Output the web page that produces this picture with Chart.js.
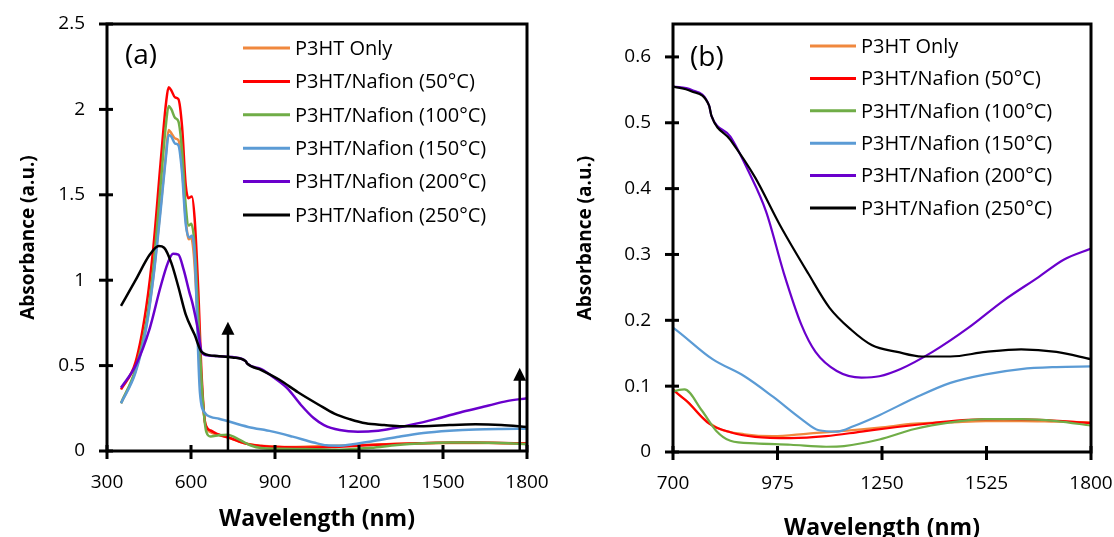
<!DOCTYPE html>
<html>
<head>
<meta charset="utf-8">
<script src="https://cdn.jsdelivr.net/npm/chart.js@4.4.0/dist/chart.umd.min.js"></script>
<style>
  html, body { margin: 0; padding: 0; background: #fff; }
  #wrap { position: relative; width: 1114px; height: 537px; }
  canvas { position: absolute; top: 0; }
  #chartA { left: 0; }
  #chartB { left: 557px; }
</style>
</head>
<body>
<div id="wrap">
  <canvas id="chartA" width="557" height="537"></canvas>
  <canvas id="chartB" width="557" height="537"></canvas>
</div>
<script>
// Series labels and colours
const seriesLabels = ['P3HT Only', 'P3HT/Nafion (50°C)', 'P3HT/Nafion (100°C)', 'P3HT/Nafion (150°C)', 'P3HT/Nafion (200°C)', 'P3HT/Nafion (250°C)'];
const seriesColors = ['#f0883e', '#ff0000', '#70ad47', '#5b9bd5', '#6a00cc', '#000000'];

// P3HT only
const onlyWl  = [350, 402, 440, 466, 491, 511, 520, 530, 543, 555, 568, 581, 592, 600, 610, 625, 638, 651, 670, 700, 740, 776, 823, 888, 963, 1056, 1150, 1243, 1336, 1430, 1523, 1616, 1709, 1800];
const onlyAbs = [0.28, 0.47, 0.73, 1.03, 1.42, 1.75, 1.88, 1.86, 1.83, 1.82, 1.66, 1.36, 1.24, 1.25, 1.15, 0.75, 0.38, 0.16, 0.11, 0.095, 0.075, 0.053, 0.035, 0.027, 0.024, 0.028, 0.032, 0.037, 0.043, 0.045, 0.047, 0.047, 0.046, 0.045];

// 50 °C
const n50Wl  = [350, 402, 440, 466, 491, 511, 520, 530, 543, 555, 568, 581, 591, 603, 613, 626, 638, 651, 670, 700, 739, 795, 851, 916, 1010, 1103, 1196, 1290, 1383, 1476, 1570, 1663, 1800];
const n50Abs = [0.36, 0.52, 0.84, 1.20, 1.68, 2.04, 2.13, 2.11, 2.07, 2.06, 1.90, 1.56, 1.48, 1.49, 1.36, 0.94, 0.44, 0.16, 0.12, 0.095, 0.076, 0.043, 0.030, 0.023, 0.021, 0.024, 0.031, 0.038, 0.044, 0.049, 0.050, 0.049, 0.044];

// 100 °C
const n100Wl  = [350, 402, 440, 466, 491, 511, 520, 530, 543, 555, 568, 581, 592, 601, 612, 626, 640, 655, 670, 700, 730, 776, 814, 851, 916, 1010, 1103, 1150, 1243, 1336, 1430, 1523, 1616, 1709, 1800];
const n100Abs = [0.28, 0.48, 0.75, 1.08, 1.55, 1.92, 2.02, 2.00, 1.95, 1.93, 1.76, 1.44, 1.32, 1.33, 1.22, 0.80, 0.35, 0.11, 0.085, 0.092, 0.095, 0.063, 0.032, 0.017, 0.013, 0.011, 0.008, 0.009, 0.019, 0.035, 0.045, 0.050, 0.050, 0.047, 0.040];

// 150 °C
const n150Wl  = [350, 402, 440, 466, 491, 511, 520, 530, 543, 555, 568, 581, 594, 603, 613, 632, 651, 670, 700, 804, 888, 963, 1038, 1084, 1131, 1178, 1243, 1336, 1430, 1523, 1616, 1709, 1800];
const n150Abs = [0.28, 0.46, 0.72, 1.02, 1.40, 1.73, 1.85, 1.84, 1.80, 1.79, 1.63, 1.33, 1.25, 1.26, 1.15, 0.34, 0.22, 0.20, 0.189, 0.141, 0.115, 0.084, 0.050, 0.033, 0.031, 0.040, 0.056, 0.082, 0.105, 0.118, 0.126, 0.129, 0.130];

// 200 °C
const n200Wl  = [350, 402, 453, 491, 517, 536, 555, 574, 594, 606, 626, 638, 657, 700, 748, 795, 801, 851, 898, 945, 992, 1038, 1075, 1131, 1196, 1243, 1299, 1383, 1476, 1570, 1663, 1728, 1800];
const n200Abs = [0.37, 0.50, 0.72, 0.96, 1.10, 1.155, 1.15, 1.06, 0.93, 0.86, 0.70, 0.58, 0.56, 0.555, 0.550, 0.526, 0.511, 0.479, 0.427, 0.365, 0.271, 0.193, 0.152, 0.123, 0.113, 0.115, 0.126, 0.152, 0.188, 0.230, 0.266, 0.292, 0.309];

// 250 °C
const n250Wl  = [350, 402, 453, 485, 504, 530, 555, 581, 613, 638, 683, 700, 748, 795, 801, 851, 916, 982, 1056, 1112, 1168, 1224, 1290, 1355, 1430, 1523, 1616, 1709, 1800];
const n250Abs = [0.85, 1.00, 1.15, 1.20, 1.19, 1.10, 0.96, 0.80, 0.68, 0.58, 0.557, 0.555, 0.548, 0.526, 0.511, 0.474, 0.417, 0.344, 0.271, 0.219, 0.186, 0.162, 0.152, 0.145, 0.145, 0.152, 0.156, 0.152, 0.141];

// Arrows on panel (a): wavelength and tip absorbance
const arrowWl  = [732, 1774];
const arrowTip = [0.757, 0.487];

// Tick values
const xTicksA = [300, 600, 900, 1200, 1500, 1800];
const yTicksA = [0, 0.5, 1, 1.5, 2, 2.5];
const xTicksB = [700, 975, 1250, 1525, 1800];
const yTicksB = [0, 0.1, 0.2, 0.3, 0.4, 0.5, 0.6];

const allWl  = [onlyWl, n50Wl, n100Wl, n150Wl, n200Wl, n250Wl];
const allAbs = [onlyAbs, n50Abs, n100Abs, n150Abs, n200Abs, n250Abs];

const FONT = "'Open Sans', 'Noto Sans', sans-serif";

function buildDatasets(width) {
  return seriesLabels.map((label, i) => ({
    label,
    data: allWl[i].map((w, j) => ({ x: w, y: allAbs[i][j] })),
    borderColor: seriesColors[i],
    backgroundColor: seriesColors[i],
    borderWidth: width,
    pointRadius: 0,
    cubicInterpolationMode: 'monotone',
    order: seriesLabels.length - i   // later series drawn on top, like the original
  }));
}

function line(ctx, x1, y1, x2, y2) {
  ctx.beginPath(); ctx.moveTo(x1, y1); ctx.lineTo(x2, y2); ctx.stroke();
}

// frame, crossing tick marks, arrows, legend and panel label
const decorPlugin = {
  id: 'decor',
  afterDatasetsDraw(chart, args, o) {
    const { ctx, chartArea: a, scales: { x, y } } = chart;
    ctx.save();
    ctx.strokeStyle = '#000';
    ctx.lineWidth = 3;
    ctx.strokeRect(a.left, a.top, a.right - a.left, a.bottom - a.top);
    y.ticks.forEach(t => { const py = y.getPixelForValue(t.value); line(ctx, a.left - 8, py, a.left + 6, py); });
    x.ticks.forEach(t => { const px = x.getPixelForValue(t.value); line(ctx, px, a.bottom - 6, px, a.bottom + 8); });

    (o.arrows || []).forEach(([w, tip]) => {
      const px = x.getPixelForValue(w);
      const ty = y.getPixelForValue(tip);
      ctx.lineWidth = 2.5;
      line(ctx, px, a.bottom, px, ty + 10);
      ctx.fillStyle = '#000';
      ctx.beginPath();
      ctx.moveTo(px, ty); ctx.lineTo(px - 6.5, ty + 13); ctx.lineTo(px + 6.5, ty + 13);
      ctx.closePath(); ctx.fill();
    });

    const L = o.legend;
    ctx.font = `${L.size}px ${FONT}`;
    ctx.textBaseline = 'middle';
    ctx.textAlign = 'left';
    chart.data.datasets.forEach((ds, i) => {
      const ly = L.y + i * L.step;
      ctx.strokeStyle = ds.borderColor;
      ctx.lineWidth = 3;
      line(ctx, L.x1, ly, L.x2, ly);
      ctx.fillStyle = '#000';
      ctx.fillText(ds.label, L.tx, ly + 1);
    });

    ctx.font = `28px ${FONT}`;
    ctx.fillStyle = '#000';
    ctx.fillText(o.panel.text, o.panel.x, o.panel.y);
    ctx.restore();
  }
};

function makeChart(id, cfg) {
  return new Chart(document.getElementById(id), {
    type: 'line',
    data: { datasets: buildDatasets(cfg.lineWidth) },
    plugins: [decorPlugin],
    options: {
      responsive: false,
      animation: false,
      events: [],
      layout: { padding: { top: 24, right: cfg.padRight, left: 0, bottom: 0 } },
      plugins: {
        legend: { display: false },
        tooltip: { enabled: false },
        decor: { legend: cfg.legend, panel: cfg.panel, arrows: cfg.arrows }
      },
      scales: {
        x: {
          type: 'linear', min: cfg.xMin, max: 1800,
          // tick marks are drawn by the plugin; tickLength only spaces the labels
          grid: { display: false, drawTicks: true, tickLength: 20 },
          border: { display: false },
          afterBuildTicks: s => { s.ticks = cfg.xTicks.map(v => ({ value: v })); },
          ticks: { color: '#000', font: { family: FONT, size: 19 }, padding: 0, maxRotation: 0, autoSkip: false, callback: v => String(v) },
          title: { display: true, text: 'Wavelength (nm)', color: '#000', font: { family: FONT, size: 23, weight: 'bold', lineHeight: 1.1 }, padding: { top: 0, bottom: cfg.xTitlePad } },
          afterFit: s => { s.height = cfg.xAxisH; }
        },
        y: {
          min: 0, max: cfg.yMax,
          grid: { display: false, drawTicks: true, tickLength: 22 },
          border: { display: false },
          afterBuildTicks: s => { s.ticks = cfg.yTicks.map(v => ({ value: v })); },
          ticks: { color: '#000', font: { family: FONT, size: 19 }, padding: 0, callback: v => String(v) },
          title: { display: true, text: 'Absorbance (a.u.)', color: '#000', font: { family: FONT, size: 19, weight: 'bold' }, padding: { top: cfg.yTitlePad, bottom: 0 } },
          afterFit: s => { s.width = cfg.yAxisW; }
        }
      }
    }
  });
}

makeChart('chartA', {
  xMin: 300, yMax: 2.5, xTicks: xTicksA, yTicks: yTicksA,
  lineWidth: 2.5, padRight: 30, yAxisW: 107, xAxisH: 86, xTitlePad: 5, yTitlePad: 17,
  legend: { x1: 243, x2: 290, tx: 295, y: 48, step: 33.4, size: 20 },
  panel: { text: '(a)', x: 125, y: 56 },
  arrows: arrowWl.map((w, i) => [w, arrowTip[i]])
});

makeChart('chartB', {
  xMin: 700, yMax: 0.65, xTicks: xTicksB, yTicks: yTicksB,
  lineWidth: 2.2, padRight: 23, yAxisW: 116, xAxisH: 85, xTitlePad: -4, yTitlePad: 17,
  legend: { x1: 253, x2: 299, tx: 304, y: 46, step: 32.4, size: 20 },
  panel: { text: '(b)', x: 133, y: 58 },
  arrows: []
});
</script>
</body>
</html>
